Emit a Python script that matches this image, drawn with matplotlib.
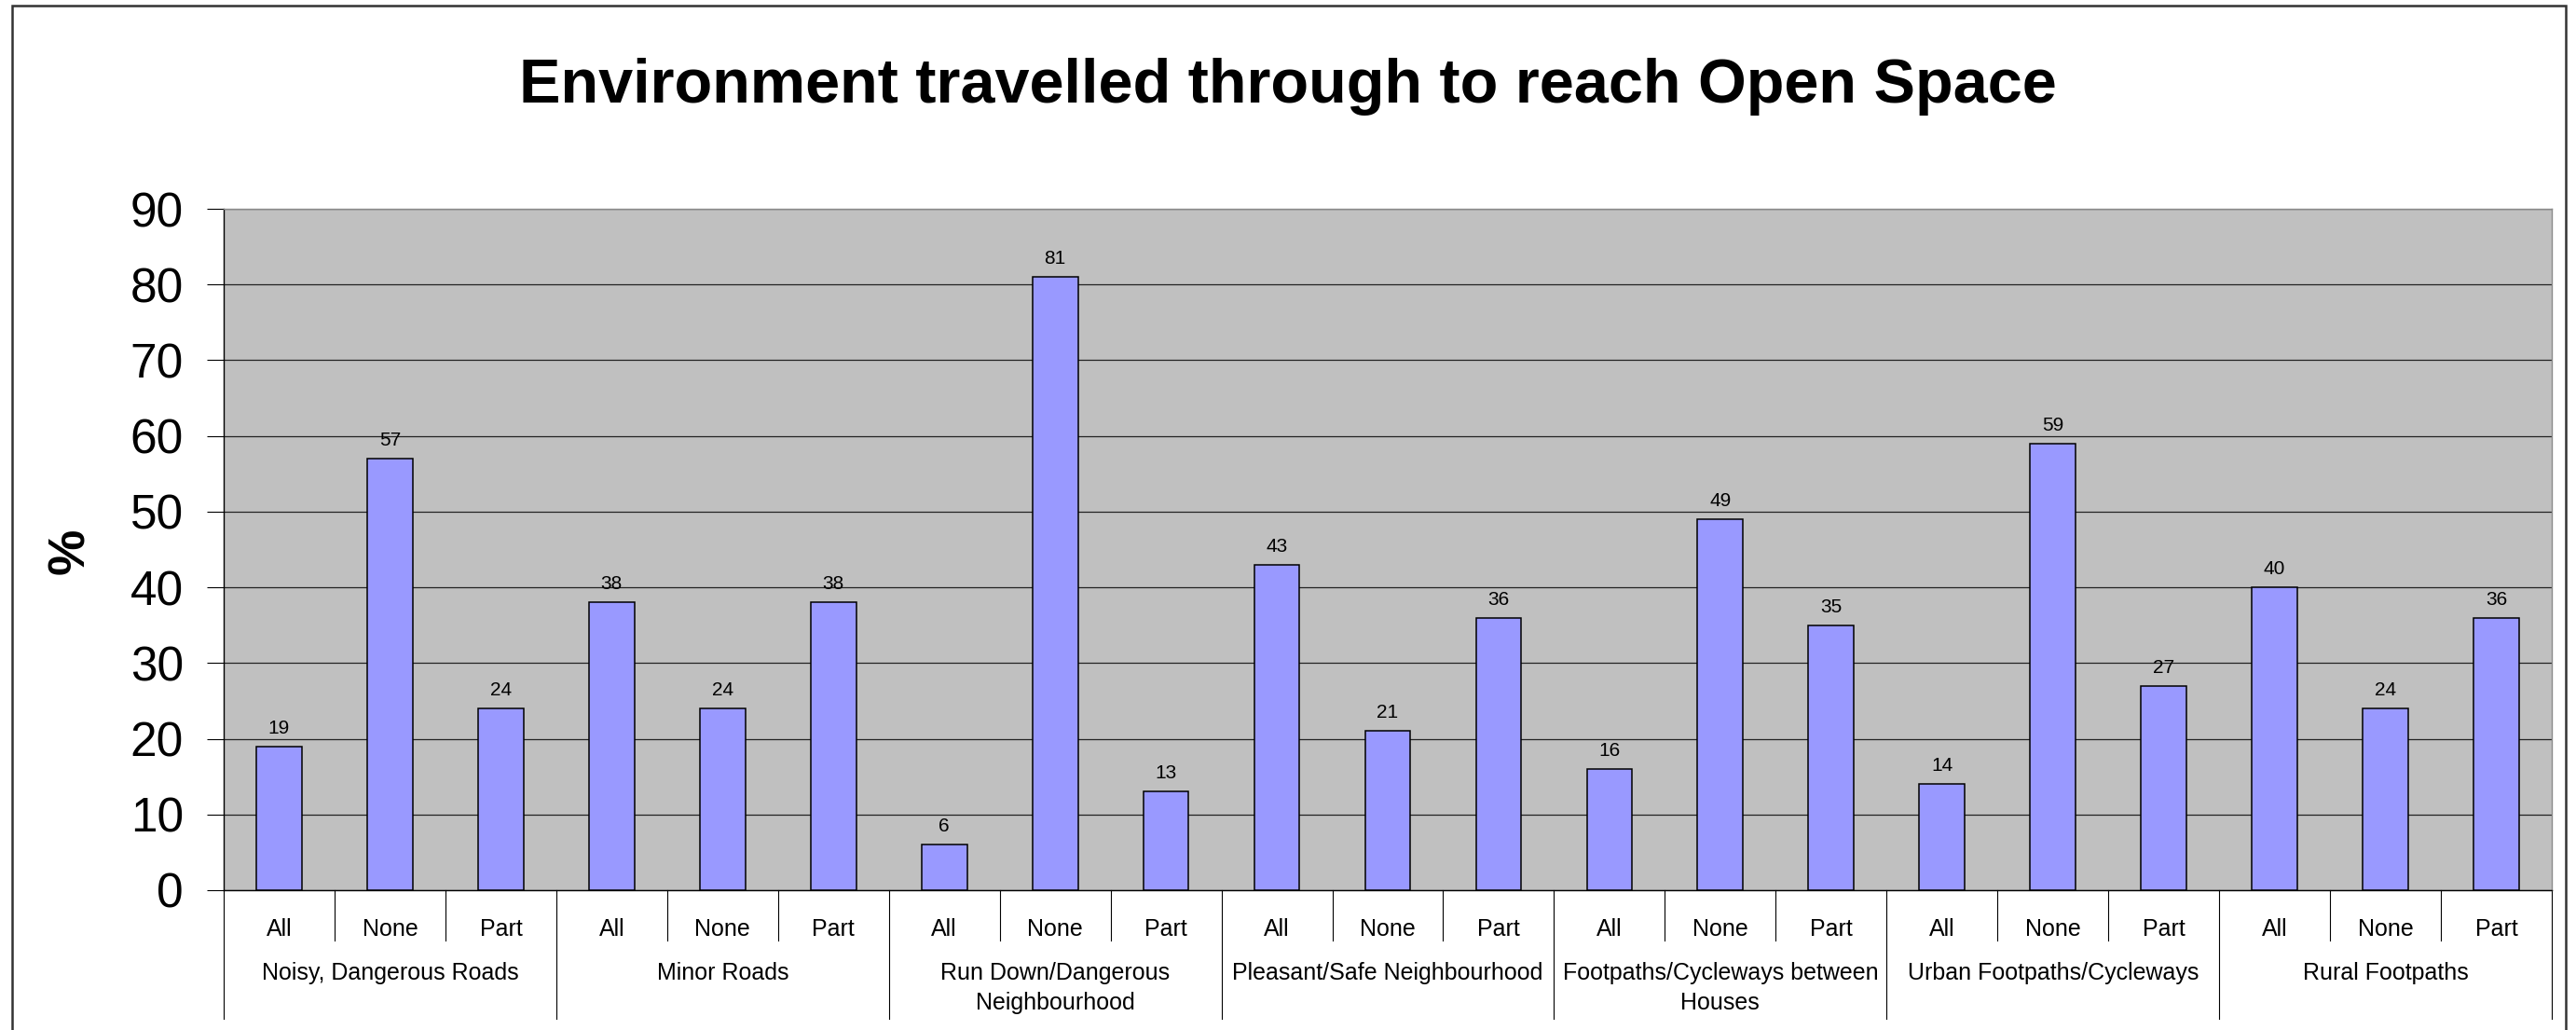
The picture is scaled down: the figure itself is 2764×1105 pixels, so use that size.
import matplotlib
matplotlib.use("Agg")
import matplotlib.pyplot as plt
from matplotlib.patches import Rectangle

# Datos
GROUPS = [
    "Noisy, Dangerous Roads",
    "Minor Roads",
    "Run Down/Dangerous\nNeighbourhood",
    "Pleasant/Safe Neighbourhood",
    "Footpaths/Cycleways between\nHouses",
    "Urban Footpaths/Cycleways",
    "Rural Footpaths",
]
SUB_LABELS = ["All", "None", "Part"]

NOISY_ROADS = [19, 57, 24]
MINOR_ROADS = [38, 24, 38]
RUN_DOWN = [6, 81, 13]
PLEASANT = [43, 21, 36]
FOOTPATHS_HOUSES = [16, 49, 35]
URBAN_FOOTPATHS = [14, 59, 27]
RURAL_FOOTPATHS = [40, 24, 36]

Y_TICKS = [0, 10, 20, 30, 40, 50, 60, 70, 80, 90]

TITLE = "Environment travelled through to reach Open Space"

plt.rcParams["font.family"] = ["Liberation Sans", "DejaVu Sans"]

W, H = 2764, 1105  # tamaño en pixeles


def build_values():
    # Juntamos los grupos en una sola lista de barras
    series = [NOISY_ROADS, MINOR_ROADS, RUN_DOWN, PLEASANT,
              FOOTPATHS_HOUSES, URBAN_FOOTPATHS, RURAL_FOOTPATHS]
    values = []
    for s in series:
        values.extend(s)
    return values


def plot_chart(values):
    fig = plt.figure(figsize=(W / 100, H / 100), dpi=100)
    fig.patch.set_facecolor("white")

    # area del grafico (en pixeles: 240..2738 x 224..955)
    ax = fig.add_axes([240 / W, (H - 955) / H, 2498 / W, 731 / H])
    ax.set_facecolor("#C0C0C0")

    n = len(values)
    xs = list(range(n))
    ax.bar(xs, values, width=0.41, color="#9999FF", edgecolor="black",
           linewidth=1.1, zorder=3)

    ax.set_xlim(-0.5, n - 0.5)
    ax.set_ylim(0, 90)
    ax.set_yticks(Y_TICKS)
    ax.yaxis.grid(True, color="#222222", linewidth=0.9, zorder=0)
    ax.set_axisbelow(True)
    ax.tick_params(axis="y", labelsize=37, length=13, width=0.8,
                   pad=18, color="black")
    ax.set_xticks([])

    for side in ["left", "bottom"]:
        ax.spines[side].set_color("black")
        ax.spines[side].set_linewidth(1.0)
    for side in ["top", "right"]:
        ax.spines[side].set_color("#8a8a8a")
        ax.spines[side].set_linewidth(1.0)

    # etiquetas de valor encima de cada barra
    for x, v in zip(xs, values):
        ax.annotate(str(v), xy=(x, v), xytext=(0, 14),
                    textcoords="offset pixels", ha="center",
                    va="baseline", fontsize=15)

    # etiquetas All/None/Part
    for x in xs:
        ax.annotate(SUB_LABELS[x % 3], xy=(x, 0), xycoords=("data", "axes fraction"),
                    xytext=(0, -49), textcoords="offset pixels",
                    ha="center", va="baseline", fontsize=18)

    # etiquetas de grupo (alineadas por arriba para que la 2a linea baje)
    for g, name in enumerate(GROUPS):
        ax.annotate(name, xy=(g * 3 + 1, 0), xycoords=("data", "axes fraction"),
                    xytext=(0, -77), textcoords="offset pixels",
                    ha="center", va="top", fontsize=18,
                    linespacing=1.4)

    # lineas separadoras debajo del eje
    trans = ax.get_xaxis_transform()
    short = -54 / 731
    long = -138 / 731
    for b in range(n + 1):
        xb = b - 0.5
        y_end = long if b % 3 == 0 else short
        ax.plot([xb, xb], [0, y_end], color="black", linewidth=0.8,
                transform=trans, clip_on=False)

    # titulo y eje Y
    fig.text(0.5, 1 - 110 / H, TITLE, ha="center", va="baseline",
             fontsize=48, fontweight="bold")
    fig.text(76 / W, 1 - 591 / H, "%", ha="center", va="center",
             rotation=90, fontsize=40, fontweight="bold")

    # marco exterior
    fig.patches.append(Rectangle((13 / W, -0.02), (2753 - 13) / W, 1 - 6 / H + 0.02,
                                 transform=fig.transFigure, fill=False,
                                 edgecolor="#333333", linewidth=1.8))

    fig.savefig("out.png", dpi=100)


def main():
    values = build_values()
    plot_chart(values)


if __name__ == "__main__":
    main()
